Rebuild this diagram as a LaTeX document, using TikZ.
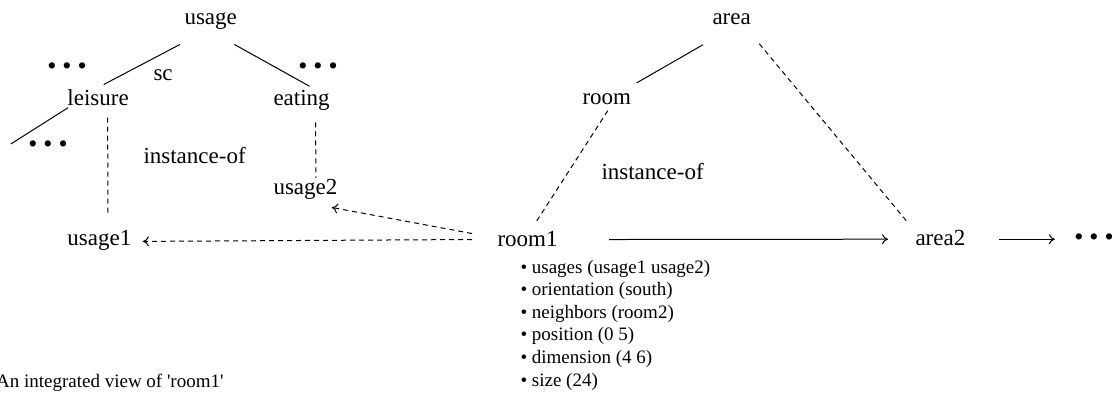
\documentclass[tikz,border=0pt]{standalone}
\usepackage{fontspec}
\setmainfont{Liberation Serif}
\usetikzlibrary{arrows, arrows.meta}

\newcommand{\moredots}{\textbullet\hspace{3pt}\textbullet\hspace{3pt}\textbullet}

\begin{document}
\begin{tikzpicture}[x=0.5pt, y=-0.5pt, >={To[length=3pt, width=5pt]}, line width=0.5pt]

        \tikzstyle{term}=[inner sep=0pt, anchor=base west, font=\fontsize{11.5}{14}\selectfont]
        \tikzstyle{attr}=[inner sep=0pt, anchor=base west, font=\fontsize{9.5}{11.3}\selectfont]
        \tikzstyle{more}=[inner sep=0pt, font=\fontsize{13}{15}\selectfont]
        \tikzstyle{inst}=[dash pattern=on 2.5pt off 2pt]

        \useasboundingbox (0,0) rectangle (1115,401);

        % usage hierarchy
        \node[term]   (usage)   at (184,25)  {usage};
        \node[term]   (leisure) at (67,106)  {leisure};
        \node[term]   (eating)  at (273,106) {eating};
        \node[term]   (sc)      at (153,81)  {sc};
        \node[term]   (inst1)   at (143,163) {instance-of};
        \node[term]   (usage2)  at (273,195) {usage2};
        \node[term]   (usage1)  at (67,245)  {usage1};
        \node[more]   (dots1)   at (67,69)   {\moredots};
        \node[more]   (dots2)   at (318,69)  {\moredots};
        \node[more]   (dots3)   at (48,147)  {\moredots};

        % area hierarchy
        \node[term]   (room1)   at (497,247) {room1};
        \node[term]   (area)    at (712,25)  {area};
        \node[term]   (room)    at (582,105) {room};
        \node[term]   (inst2)   at (601,180) {instance-of};
        \node[term]   (area2)   at (915,245) {area2};
        \node[more]   (dots4)   at (1094,240) {\moredots};

        \foreach \t [count=\i] in {usages (usage1 usage2), orientation (south),
                neighbors (room2), position (0 5), dimension (4 6), size (24)}
            \node[attr] (attr\i) at (520,{273+22.6*(\i-1)}) {\textbullet\ \t};

        \node[attr, anchor=base east] (caption) at (224,387)
            {An integrated view of \textquotesingle room1\textquotesingle};

        \path
        ([shift={(-4,14)}]usage.south west) edge ([shift={(5.5,-5)}]leisure.north)
        ([shift={(-3,14)}]usage.south east) edge ([shift={(8,-4)}]eating.north)
        ([shift={(1,1)}]leisure.south west) edge ([shift={(-17,-3)}]dots3.west)
        ([shift={(-9,19)}]area.south west)  edge ([shift={(5,-10.7)}]room.north east);

        \path[inst]
        ([shift={(9.5,11)}]leisure.south) edge ([shift={(8.5,-16.5)}]usage1.north)
        ([shift={(14,11)}]eating.south)   edge ([shift={(10.5,-1.5)}]usage2.north)
        ([shift={(1,5)}]room.south)       edge ([shift={(8,-8.5)}]room1.north)
        ([shift={(8,18)}]area.south east) edge ([shift={(-7,-6.5)}]area2.north west);

        \path[inst, ->]
        ([shift={(-25,0)}]room1.west)  edge ([shift={(11,1.5)}]usage1.east)
        ([shift={(-25,-6)}]room1.west) edge ([shift={(-6,7)}]usage2.south east);

        \path[->]
        ([shift={(51,0)}]room1.east) edge ([shift={(-27,1.7)}]area2.west)
        ([shift={(33,1.7)}]area2.east) edge ([shift={(-19,1.7)}]area2.east -| dots4.west);

\end{tikzpicture}
\end{document}
